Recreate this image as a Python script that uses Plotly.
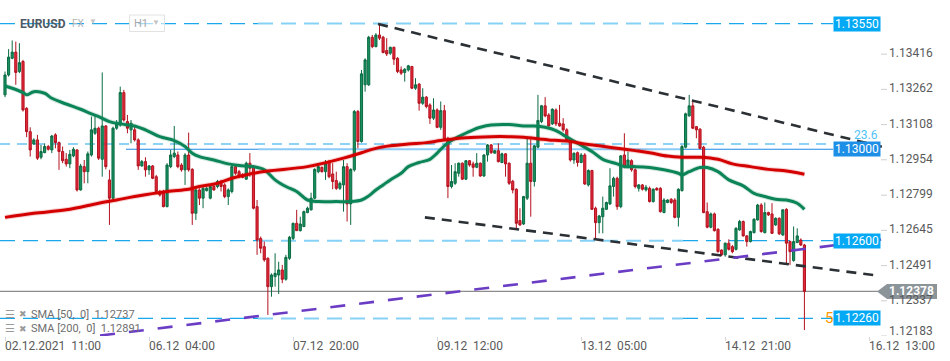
import plotly.graph_objects as go

# ---------------- data (EURUSD H1) ----------------
opens = [1.13238,1.13325,1.13398,1.13425,1.13340,1.13384,1.13179,1.13077,1.13023,1.13041,
1.12965,1.12985,1.13012,1.12997,1.13063,1.13029,1.12990,1.12956,1.12936,1.12971,
1.12997,1.12822,1.12924,1.12902,1.12975,1.13070,1.13092,1.12956,1.13102,1.12866,
1.12786,1.13092,1.13106,1.13248,1.13121,1.13085,1.13085,1.13041,1.12927,1.12946,
1.12910,1.12927,1.12880,1.12815,1.12807,1.12749,1.12924,1.12968,1.12975,1.12931,
1.12910,1.12975,1.12912,1.12720,1.12822,1.12786,1.12819,1.12786,1.12837,1.12837,
1.12851,1.12844,1.12793,1.12815,1.12924,1.12902,1.12888,1.12869,1.12939,1.12924,
1.12749,1.12610,1.12574,1.12523,1.12399,1.12443,1.12450,1.12472,1.12431,1.12523,
1.12610,1.12676,1.12644,1.12662,1.12723,1.12735,1.12786,1.12902,1.12921,1.12902,
1.12942,1.12892,1.12863,1.12829,1.12844,1.12924,1.12761,1.12910,1.13165,1.13034,
1.13282,1.13282,1.13490,1.13449,1.13500,1.13490,1.13432,1.13420,1.13446,1.13398,
1.13347,1.13336,1.13347,1.13362,1.13267,1.13285,1.13201,1.13228,1.13194,1.13136,
1.13172,1.13096,1.13169,1.13048,1.12837,1.12851,1.12895,1.12939,1.12869,1.12950,
1.12936,1.12921,1.12939,1.12883,1.12975,1.13019,1.12983,1.12994,1.12942,1.12980,
1.12939,1.12860,1.12825,1.12688,1.12673,1.12786,1.12939,1.12859,1.13009,1.13121,
1.13190,1.13150,1.13111,1.13172,1.13114,1.13111,1.13085,1.13041,1.12953,1.12985,
1.12942,1.12975,1.12844,1.12907,1.12742,1.12679,1.12705,1.12737,1.12761,1.12837,
1.12873,1.12749,1.12975,1.12924,1.12950,1.12910,1.12829,1.12844,1.12822,1.12829,
1.12771,1.12829,1.12829,1.12723,1.12767,1.12781,1.12778,1.12702,1.12819,1.13009,
1.13146,1.13190,1.13099,1.13088,1.13009,1.12727,1.12659,1.12717,1.12650,1.12559,
1.12538,1.12589,1.12574,1.12562,1.12647,1.12684,1.12621,1.12596,1.12635,1.12691,
1.12756,1.12635,1.12723,1.12717,1.12669,1.12698,1.12625,1.12737,1.12596,1.12513,
1.12592,1.12603,1.12581]
highs = [1.13340,1.13438,1.13476,1.13471,1.13464,1.13391,1.13184,1.13096,1.13048,1.13063,
1.13019,1.13026,1.13019,1.13063,1.13070,1.13034,1.13012,1.12983,1.12997,1.13009,
1.13000,1.12936,1.12953,1.12990,1.13143,1.13150,1.13099,1.13336,1.13106,1.12910,
1.13099,1.13128,1.13274,1.13260,1.13150,1.13128,1.13106,1.13048,1.12953,1.12965,
1.12931,1.12931,1.12888,1.12822,1.12822,1.12939,1.12997,1.13102,1.12990,1.12939,
1.12983,1.13073,1.12917,1.12837,1.12829,1.12837,1.12837,1.12844,1.12844,1.12866,
1.12866,1.12851,1.12829,1.12931,1.12931,1.12910,1.12895,1.12946,1.12983,1.12931,
1.12778,1.12618,1.12596,1.12527,1.12457,1.12545,1.12508,1.12494,1.12538,1.12621,
1.12679,1.12735,1.12705,1.12732,1.12749,1.12810,1.12917,1.12939,1.12924,1.12953,
1.12953,1.12939,1.12902,1.12859,1.12953,1.12939,1.12917,1.13172,1.13172,1.13347,
1.13398,1.13496,1.13500,1.13508,1.13544,1.13496,1.13486,1.13449,1.13449,1.13403,
1.13362,1.13355,1.13369,1.13365,1.13311,1.13289,1.13267,1.13233,1.13201,1.13223,
1.13179,1.13209,1.13194,1.13055,1.12931,1.12939,1.12942,1.12942,1.12953,1.12953,
1.12946,1.12983,1.12942,1.12978,1.13023,1.13023,1.12997,1.13026,1.12985,1.12983,
1.12942,1.12866,1.12829,1.12742,1.12796,1.13055,1.13055,1.13019,1.13238,1.13194,
1.13228,1.13158,1.13179,1.13179,1.13194,1.13136,1.13092,1.13048,1.12985,1.12990,
1.12983,1.12983,1.12912,1.12910,1.12749,1.12713,1.12793,1.12771,1.12917,1.12880,
1.12880,1.12975,1.13070,1.12990,1.12956,1.12917,1.12848,1.12848,1.12844,1.12837,
1.12829,1.12834,1.12834,1.12786,1.12781,1.12786,1.12786,1.12829,1.13019,1.13160,
1.13238,1.13209,1.13102,1.13092,1.13015,1.12767,1.12723,1.12723,1.12654,1.12562,
1.12592,1.12606,1.12581,1.12659,1.12691,1.12688,1.12625,1.12644,1.12698,1.12761,
1.12764,1.12767,1.12727,1.12764,1.12702,1.12702,1.12737,1.12742,1.12600,1.12662,
1.12654,1.12610,1.12586]
lows = [1.13228,1.13318,1.13394,1.13282,1.13333,1.13165,1.13053,1.12968,1.13019,1.12953,
1.12956,1.12983,1.12994,1.12983,1.13004,1.12910,1.12939,1.12924,1.12917,1.12965,
1.12815,1.12819,1.12851,1.12851,1.12968,1.13063,1.12953,1.12880,1.12912,1.12669,
1.12778,1.13085,1.13099,1.13121,1.13070,1.13026,1.13034,1.12910,1.12924,1.12880,
1.12888,1.12869,1.12807,1.12793,1.12746,1.12746,1.12917,1.12961,1.12917,1.12902,
1.12844,1.12902,1.12669,1.12691,1.12756,1.12742,1.12815,1.12781,1.12819,1.12829,
1.12815,1.12786,1.12756,1.12807,1.12888,1.12873,1.12873,1.12866,1.12880,1.12737,
1.12538,1.12545,1.12508,1.12275,1.12355,1.12399,1.12367,1.12414,1.12425,1.12516,
1.12603,1.12644,1.12640,1.12659,1.12720,1.12732,1.12781,1.12895,1.12898,1.12866,
1.12873,1.12825,1.12822,1.12822,1.12727,1.12684,1.12669,1.12902,1.13004,1.13029,
1.13252,1.13277,1.13442,1.13446,1.13478,1.13420,1.13408,1.13413,1.13369,1.13333,
1.13325,1.13296,1.13340,1.13263,1.13260,1.13169,1.13194,1.13179,1.13111,1.13128,
1.13092,1.13085,1.13038,1.12786,1.12829,1.12844,1.12880,1.12866,1.12866,1.12924,
1.12880,1.12917,1.12880,1.12880,1.12946,1.12980,1.12980,1.12942,1.12939,1.12880,
1.12844,1.12807,1.12650,1.12665,1.12669,1.12778,1.12705,1.12837,1.13004,1.13114,
1.13140,1.13099,1.13106,1.13102,1.13099,1.13077,1.13034,1.12946,1.12936,1.12924,
1.12939,1.12844,1.12837,1.12735,1.12603,1.12632,1.12632,1.12735,1.12756,1.12793,
1.12735,1.12742,1.12917,1.12917,1.12902,1.12829,1.12815,1.12819,1.12815,1.12767,
1.12767,1.12819,1.12723,1.12720,1.12764,1.12761,1.12698,1.12662,1.12815,1.13004,
1.13143,1.13088,1.13048,1.13000,1.12720,1.12654,1.12654,1.12640,1.12548,1.12533,
1.12530,1.12557,1.12545,1.12557,1.12644,1.12618,1.12574,1.12592,1.12632,1.12688,
1.12635,1.12632,1.12708,1.12630,1.12665,1.12625,1.12621,1.12501,1.12494,1.12508,
1.12589,1.12577,1.12209]
closes = [1.13325,1.13403,1.13425,1.13336,1.13379,1.13172,1.13077,1.12997,1.13041,1.12961,
1.12990,1.13012,1.13000,1.13058,1.13029,1.12990,1.12950,1.12936,1.12978,1.13000,
1.12822,1.12927,1.12902,1.12980,1.13085,1.13092,1.12961,1.13102,1.12924,1.12786,
1.13092,1.13111,1.13248,1.13128,1.13092,1.13114,1.13041,1.12927,1.12946,1.12910,
1.12927,1.12873,1.12815,1.12800,1.12749,1.12931,1.12975,1.12983,1.12924,1.12910,
1.12975,1.12910,1.12720,1.12822,1.12786,1.12829,1.12829,1.12837,1.12822,1.12859,
1.12837,1.12793,1.12822,1.12924,1.12895,1.12880,1.12877,1.12939,1.12917,1.12742,
1.12603,1.12567,1.12516,1.12399,1.12450,1.12457,1.12472,1.12431,1.12527,1.12615,
1.12676,1.12644,1.12673,1.12727,1.12742,1.12786,1.12912,1.12924,1.12902,1.12939,
1.12880,1.12859,1.12829,1.12851,1.12924,1.12761,1.12912,1.13165,1.13034,1.13330,
1.13391,1.13490,1.13449,1.13500,1.13486,1.13423,1.13417,1.13446,1.13394,1.13340,
1.13333,1.13350,1.13365,1.13267,1.13282,1.13201,1.13228,1.13187,1.13136,1.13172,
1.13096,1.13169,1.13041,1.12837,1.12859,1.12902,1.12939,1.12869,1.12950,1.12931,
1.12921,1.12939,1.12883,1.12975,1.13019,1.12985,1.12994,1.12946,1.12980,1.12936,
1.12851,1.12822,1.12676,1.12669,1.12793,1.12939,1.12859,1.13015,1.13126,1.13190,
1.13146,1.13102,1.13175,1.13111,1.13102,1.13085,1.13041,1.12953,1.12983,1.12942,
1.12975,1.12848,1.12907,1.12737,1.12679,1.12708,1.12742,1.12767,1.12840,1.12873,
1.12749,1.12971,1.12924,1.12953,1.12910,1.12837,1.12844,1.12825,1.12834,1.12771,
1.12825,1.12822,1.12727,1.12778,1.12778,1.12767,1.12702,1.12825,1.13012,1.13155,
1.13190,1.13092,1.13085,1.13004,1.12723,1.12659,1.12717,1.12644,1.12552,1.12538,
1.12589,1.12562,1.12552,1.12654,1.12684,1.12621,1.12596,1.12640,1.12694,1.12756,
1.12640,1.12723,1.12713,1.12632,1.12698,1.12630,1.12735,1.12589,1.12552,1.12596,
1.12621,1.12581,1.12378]

sma50_idx = [0,2,5,6,8,11,13,17,21,24,26,29,32,36,39,43,47,50,52,54,58,62,65,69,72,75,
             78,81,84,87,92,96,99,101,103,105,107,110,112,115,118,120,122,124,127,130,
             132,135,140,144,147,150,153,155,159,163,166,170,172,175,179,183,187,188,190,
             193,195,198,201,205,208,211,214,217,220,222]
sma50_val = [1.13277,1.13267,1.13248,1.13238,1.13252,1.13245,1.13223,1.13198,1.13175,1.13155,
             1.13143,1.13121,1.13111,1.13102,1.13085,1.13055,1.13038,1.13012,1.12983,1.12968,
             1.12953,1.12936,1.12929,1.12924,1.12910,1.12866,1.12837,1.12815,1.12778,1.12771,
             1.12771,1.12771,1.12778,1.12796,1.12822,1.12844,1.12866,1.12895,1.12924,1.12942,
             1.12956,1.12983,1.13015,1.13038,1.13063,1.13085,1.13096,1.13106,1.13108,1.13102,
             1.13102,1.13096,1.13082,1.13063,1.13026,1.12990,1.12956,1.12936,1.12924,1.12924,
             1.12920,1.12910,1.12895,1.12888,1.12902,1.12920,1.12920,1.12902,1.12866,1.12840,
             1.12807,1.12793,1.12781,1.12778,1.12764,1.12737]
sma200_idx = [0,8,17,26,31,36,45,51,54,59,63,68,73,84,94,99,103,107,112,117,121,126,131,
              135,140,144,149,151,156,161,165,170,175,179,184,188,193,198,202,207,212,216,222]
sma200_val = [1.12702,1.12720,1.12735,1.12764,1.12778,1.12793,1.12815,1.12825,1.12837,1.12851,
              1.12873,1.12892,1.12905,1.12924,1.12961,1.12985,1.13004,1.13015,1.13023,1.13029,
              1.13038,1.13048,1.13053,1.13055,1.13055,1.13053,1.13044,1.13041,1.13036,1.13023,
              1.13015,1.13004,1.12994,1.12985,1.12970,1.12965,1.12965,1.12956,1.12936,1.12924,
              1.12912,1.12907,1.12891]

y_tick_vals = [1.13416, 1.13262, 1.13108, 1.12954, 1.12799, 1.12645, 1.12491, 1.12337, 1.12183]
x_tick_idx = [0, 40, 80, 120, 160, 200, 240]
x_tick_text = ["02.12.2021  11:00", "06.12  04:00", "07.12  20:00", "09.12  12:00",
               "13.12  05:00", "14.12  21:00", "16.12  13:00"]

level_top = 1.13550
level_fib236 = 1.13023
level_mid = 1.13000
level_support = 1.12600
level_bottom = 1.12260
last_price = 1.12378

trend_upper_x = [103.6, 243.5]
trend_upper_y = [1.13548, 1.13011]
trend_lower_x = [116.6, 242.4]
trend_lower_y = [1.12702, 1.12447]
trend_purple_x = [26.4, 243.3]
trend_purple_y = [1.12185, 1.12605]

# ---------------- figure ----------------
W, H = 950, 361
PLOT_H = 336
FONT = "Roboto, Arial, sans-serif"

def px(x):
    return x / W

def py(y):
    return 1 - y / PLOT_H

fig = go.Figure()

fig.add_trace(go.Candlestick(
    x=list(range(len(closes))), open=opens, high=highs, low=lows, close=closes,
    increasing=dict(line=dict(color="#0b6b43", width=1), fillcolor="#17915f"),
    decreasing=dict(line=dict(color="#b3121f", width=1), fillcolor="#e3283a"),
    whiskerwidth=0, showlegend=False, hoverinfo="skip"))

for xs, ys, col in [(sma50_idx, sma50_val, "#0b8457"), (sma200_idx, sma200_val, "#d40000")]:
    fig.add_trace(go.Scatter(x=xs, y=ys, mode="lines", line=dict(color=col, width=5, shape="spline"),
                             opacity=0.18, showlegend=False, hoverinfo="skip"))
    fig.add_trace(go.Scatter(x=xs, y=ys, mode="lines", line=dict(color=col, width=3, shape="spline"),
                             showlegend=False, hoverinfo="skip"))

shapes = []
BASE = "#1aa7ec"
LIGHT = "#86d2f6"

def hseg(y, x0, x1, color, width, dash, layer="below"):
    shapes.append(dict(type="line", xref="paper", yref="y", x0=px(x0), x1=px(x1), y0=y, y1=y,
                       line=dict(color=color, width=width, dash=dash), layer=layer))

for lvl in [level_top, level_support, level_bottom]:
    hseg(lvl, 0, 258, BASE, 1.2, "15px,8px")
    hseg(lvl, 258, 683, LIGHT, 2, "15px,8px")
    hseg(lvl, 683, 833, BASE, 1.2, "15px,8px")
hseg(level_fib236, 0, 833, BASE, 1.2, "10px,7px")
hseg(level_mid, 126, 258, "#1e88e5", 1.2, "solid")
hseg(level_mid, 258, 683, "#8ccaf7", 2.2, "solid")
hseg(level_mid, 683, 833, "#1e88e5", 1.2, "solid")
hseg(last_price, 0, 878, "#8c8c8c", 1.2, "solid")

for xs, ys, col, dash in [(trend_upper_x, trend_upper_y, "#2b3035", "10px,7px"),
                          (trend_lower_x, trend_lower_y, "#2b3035", "10px,7px"),
                          (trend_purple_x, trend_purple_y, "#6a3dc4", "15px,14px")]:
    shapes.append(dict(type="line", xref="x", yref="y", x0=xs[0], x1=xs[1], y0=ys[0], y1=ys[1],
                       line=dict(color=col, width=2.6, dash=dash), layer="above"))

# y tick dashes
for v in y_tick_vals:
    shapes.append(dict(type="line", xref="paper", yref="y", x0=px(881), x1=px(887), y0=v, y1=v,
                       line=dict(color="#cfcfcf", width=1)))

# current price pointer
shapes.append(dict(type="path", xref="paper", yref="y", xsizemode="pixel", ysizemode="pixel",
                   xanchor=px(877), yanchor=last_price,
                   path="M 0,0 L 10,7.5 L 60,7.5 L 60,-7.5 L 10,-7.5 Z",
                   fillcolor="#8a9499", line=dict(width=0), layer="above"))

# H1 box in header
shapes.append(dict(type="rect", xref="paper", yref="paper", x0=px(129.5), x1=px(164.5),
                   y0=py(31.5), y1=py(15), line=dict(color="#e2e2e2", width=1),
                   fillcolor="rgba(255,255,255,0.6)"))

annotations = []

def ann(text, x, y, xref="paper", yref="y", size=12, color="#5a5a5a", xanchor="left",
        yanchor="middle", **kw):
    d = dict(text=text, x=x, y=y, xref=xref, yref=yref, showarrow=False,
             font=dict(family=FONT, size=size, color=color), xanchor=xanchor, yanchor=yanchor)
    d.update(kw)
    annotations.append(d)

# y tick labels
for v in y_tick_vals:
    ys = 5 if v == y_tick_vals[-1] else 1
    ann(f"{v:.5f}", px(889), v, xshift=-2, yshift=ys)

# x tick labels
for i, t in zip(x_tick_idx, x_tick_text):
    ann(t.replace("  ", "\u00a0\u00a0"), i, 0, xref="x", yref="paper", yanchor="top",
        xshift=-2, yshift=-1)

# fib labels
ann("23.6", px(852), 1.13062, size=12, color="#4fc3f7")
ann("50.0", px(823), level_bottom, size=15, color="#ff9800")

# level boxes
for lvl, bg in [(level_top, "#03a9f4"), (level_mid, "#1e8fe6"),
                (level_support, "#03a9f4"), (level_bottom, "#03a9f4")]:
    ann(f"{lvl:.5f}", px(857), lvl, xanchor="center", color="white", size=12,
        bgcolor=bg, width=44, height=12, borderpad=1)

ann(f"<b>{last_price:.5f}</b>", px(911), last_price, xanchor="center", color="white", size=12)

# header
ann("<b>EURUSD</b>", px(20), py(24), yref="paper", size=12, color="#4f5a64", xshift=-2)
ann("FX", px(72), py(24), yref="paper", size=10, color="#b4b4b4", xshift=-2)
ann("\u25bc", px(89), py(22), yref="paper", size=8, color="#c4c4c4", xshift=-2)
ann("H1", px(134), py(24), yref="paper", size=11, color="#a8a8a8", xshift=-2)
ann("\u25bc", px(151.5), py(23), yref="paper", size=8, color="#c4c4c4", xshift=-2)

# indicator legend
for yy, txt in [(314, "SMA [50,  0]  1.12737"), (328.5, "SMA [200,  0]  1.12891")]:
    ann("\u2630", px(5), py(yy), yref="paper", size=11, color="#9a9a9a", xshift=-2)
    ann("\u2716", px(19), py(yy), yref="paper", size=9, color="#9a9a9a", xshift=-2)
    ann(txt.replace("  ", "\u00a0 "), px(31), py(yy), yref="paper", size=11, color="#6e6e6e", xshift=-2)

fig.update_layout(
    width=W, height=H, margin=dict(l=0, r=0, t=0, b=H - PLOT_H),
    paper_bgcolor="white", plot_bgcolor="white",
    shapes=shapes, annotations=annotations, showlegend=False,
    font=dict(family=FONT), boxgap=0.15,
    xaxis=dict(range=[-5 / 3.601, 945 / 3.601], showgrid=False, zeroline=False, showline=False,
               tickvals=x_tick_idx, ticks="outside", ticklen=4, tickcolor="#d6d6d6",
               showticklabels=False, rangeslider=dict(visible=False), fixedrange=True),
    yaxis=dict(range=[1.12183, 1.13653], showgrid=False, zeroline=False, showline=False,
               showticklabels=False, ticks="", fixedrange=True),
)

fig.write_html("out.html", config={"displayModeBar": False},
               post_script="document.body.style.margin='0px';document.body.style.overflow='hidden';")
